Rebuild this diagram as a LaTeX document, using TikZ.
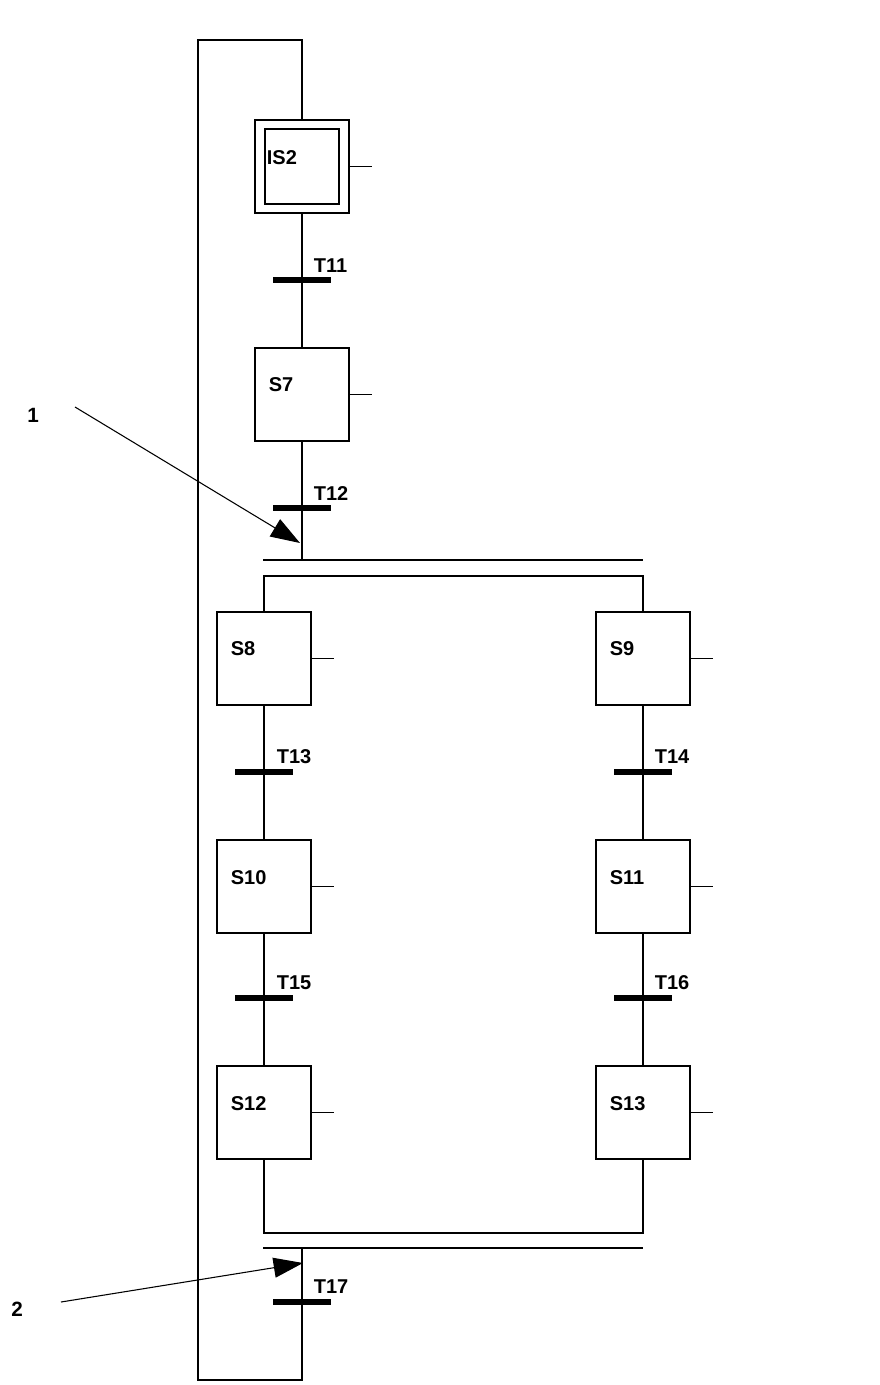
\documentclass[tikz,border=0pt]{standalone}
\usepackage{fontspec}
\setmainfont{Liberation Sans}
\usetikzlibrary{arrows.meta}
\begin{document}
\begin{tikzpicture}[x=0.75pt,y=-0.75pt,
  line width=1.3pt,
  stepbox/.style={draw,rectangle,minimum width=70.5pt,minimum height=70pt,inner sep=0pt,line width=1.3pt},
  innerbox/.style={draw,rectangle,minimum width=56pt,minimum height=56pt,inner sep=0pt,line width=1.3pt},
  trbar/.style={fill=black,rectangle,minimum width=44pt,minimum height=4pt,inner sep=0pt},
  lbl/.style={anchor=west,inner sep=0pt,font=\bfseries\fontsize{15}{17}\selectfont},
  num/.style={inner sep=0pt,font=\bfseries\fontsize{15.5}{17}\selectfont},
  pointer/.style={line width=0.8pt,-{Triangle[length=22pt,width=15pt]}}]
\useasboundingbox (0,0) rectangle (879,1385);

% steps
\node[stepbox] (IS2) at (302,166.5) {};
\node[innerbox] (IS2i) at (IS2.center) {};
\node[stepbox] (S7) at (302,394.5) {};
\node[stepbox] (S8) at (264,658.5) {};
\node[stepbox] (S9) at (643,658.5) {};
\node[stepbox] (S10) at (264,886.5) {};
\node[stepbox] (S11) at (643,886.5) {};
\node[stepbox] (S12) at (264,1112.5) {};
\node[stepbox] (S13) at (643,1112.5) {};

% step labels
\node[lbl] (lIS2) at (266,158) {IS2};
\node[lbl] (lS7) at (268,385) {S7};
\node[lbl] (lS8) at (230,649) {S8};
\node[lbl] (lS9) at (609,649) {S9};
\node[lbl] (lS10) at (230,878) {S10};
\node[lbl] (lS11) at (609,878) {S11};
\node[lbl] (lS12) at (230,1104) {S12};
\node[lbl] (lS13) at (609,1104) {S13};

% transitions
\node[trbar] (T11) at (302,280) {};
\node[trbar] (T12) at (302,508) {};
\node[trbar] (T13) at (264,772) {};
\node[trbar] (T14) at (643,772) {};
\node[trbar] (T15) at (264,998) {};
\node[trbar] (T16) at (643,998) {};
\node[trbar] (T17) at (302,1302) {};

\node[lbl] (lT11) at (313,266) {T11};
\node[lbl] (lT12) at (313,494) {T12};
\node[lbl] (lT13) at (276,757) {T13};
\node[lbl] (lT14) at (654,757) {T14};
\node[lbl] (lT15) at (276,983) {T15};
\node[lbl] (lT16) at (654,983) {T16};
\node[lbl] (lT17) at (313,1287) {T17};

% action stubs
\foreach \s in {IS2,S7,S8,S9,S10,S11,S12,S13}
  \draw[line width=1.3pt] (\s.east) -- ++(22,0);

% main column
\draw (IS2.south) -- (T11.center) -- (S7.north);
\draw (S7.south) -- (T12.center);

% divergence
\coordinate (dvL1) at (263,560);
\coordinate (dvR1) at (643,560);
\coordinate (dvL2) at (263,576);
\draw (dvL1) -- (dvR1);
\draw (T12.center) -- (T12 |- dvL1);
\draw (S8.north) -- (S8 |- dvL2) -- (S9 |- dvL2) -- (S9.north);

% branches
\draw (S8.south) -- (T13.center) -- (S10.north);
\draw (S10.south) -- (T15.center) -- (S12.north);
\draw (S9.south) -- (T14.center) -- (S11.north);
\draw (S11.south) -- (T16.center) -- (S13.north);

% convergence
\coordinate (cvL1) at (263,1233);
\coordinate (cvL2) at (263,1248);
\coordinate (cvR2) at (643,1248);
\draw (S12.south) -- (S12 |- cvL1) -- (S13 |- cvL1) -- (S13.south);
\draw (cvL2) -- (cvR2);

% loop back
\coordinate (lpBR) at (302,1380);
\coordinate (lpTL) at (198,40);
\draw (T17 |- cvL2) -- (T17.center) -- (lpBR) -| (lpTL) -| (IS2.north);

% pointers
\node[num] (n1) at (33,415) {1};
\node[num] (n2) at (17,1309) {2};
\coordinate (a1s) at (75,407);
\coordinate (a1e) at (300,543);
\coordinate (a2s) at (61,1302);
\coordinate (a2e) at (303,1263);
\draw[pointer] (a1s) -- (a1e);
\draw[pointer] (a2s) -- (a2e);
\end{tikzpicture}
\end{document}
